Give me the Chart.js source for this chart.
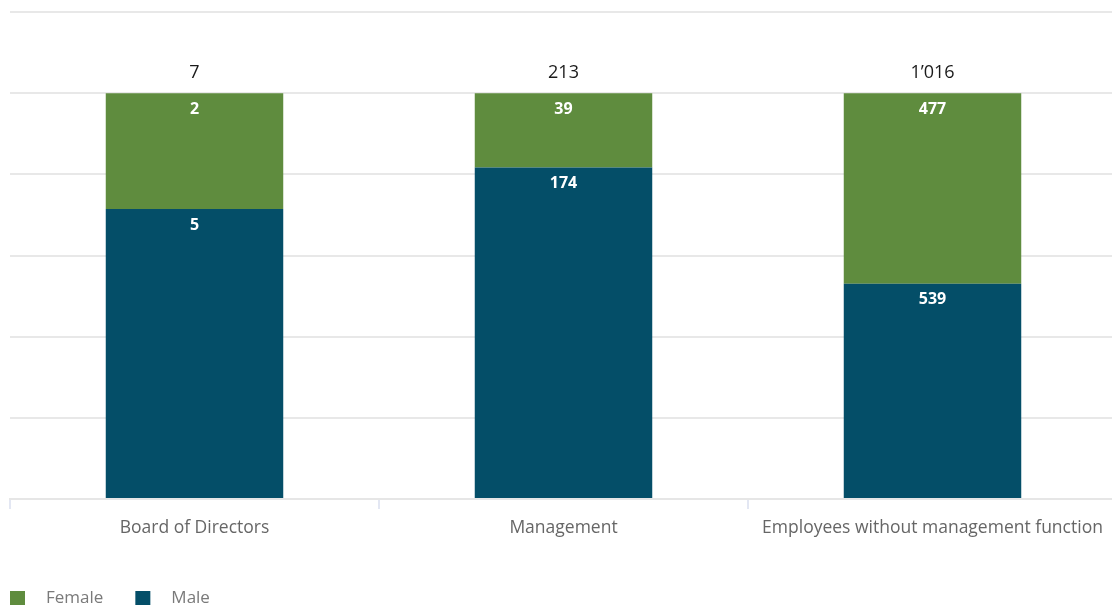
<!DOCTYPE html>
<html>
<head>
<meta charset="utf-8">
<style>
  html, body { margin: 0; padding: 0; background: #fff; overflow: hidden; }
  #wrap { position: relative; width: 1117px; height: 608px; }
</style>
</head>
<body>
<div id="wrap">
  <canvas id="genderChart"></canvas>
</div>

<script src="https://cdn.jsdelivr.net/npm/chart.js@4.4.1/dist/chart.umd.min.js"></script>
<script>
  const categories = ['Board of Directors', 'Management', 'Employees without management function'];
  const male   = [5, 174, 539];
  const female = [2, 39, 477];
  const yTicks = [0, 20, 40, 60, 80, 100, 120];

  const totals = categories.map((_, i) => male[i] + female[i]);
  const malePct   = male.map((v, i) => v / totals[i] * 100);
  const femalePct = female.map((v, i) => v / totals[i] * 100);

  const fmt = n => String(n).replace(/\B(?=(\d{3})+(?!\d))/g, '\u2019');

  const fontFamily = '"Open Sans", "Noto Sans", sans-serif';

  // counts inside the segments + totals above each column
  const valueLabels = {
    id: 'valueLabels',
    afterDatasetsDraw(chart) {
      const c = chart.ctx;
      c.save();
      c.textAlign = 'center';
      c.textBaseline = 'middle';
      chart.data.datasets.forEach((ds, di) => {
        const meta = chart.getDatasetMeta(di);
        if (meta.hidden) return;
        c.font = 'bold 16px ' + fontFamily;
        c.fillStyle = '#ffffff';
        meta.data.forEach((bar, i) => {
          c.fillText(fmt(ds.counts[i]), bar.x, bar.y + 16);
        });
      });
      const top = chart.getDatasetMeta(chart.data.datasets.length - 1);
      c.font = '18px ' + fontFamily;
      c.fillStyle = '#1a1a1a';
      top.data.forEach((bar, i) => {
        c.fillText(fmt(totals[i]), bar.x, bar.y - 20);
      });
      c.restore();
    }
  };

  // simple legend at the bottom left (Female first)
  const bottomLegend = {
    id: 'bottomLegend',
    afterDraw(chart) {
      const c = chart.ctx;
      const items = chart.data.datasets.slice().reverse();
      let x = 10;
      const y = 598;
      c.save();
      c.font = '17px ' + fontFamily;
      c.textBaseline = 'middle';
      c.textAlign = 'left';
      items.forEach(ds => {
        c.fillStyle = ds.backgroundColor;
        c.fillRect(x, y - 7, 15, 14);
        c.fillStyle = '#7a7a7a';
        c.fillText(ds.label, x + 36, y);
        x += 36 + c.measureText(ds.label).width + 32;
      });
      c.restore();
    }
  };

  new Chart(document.getElementById('genderChart'), {
    type: 'bar',
    data: {
      labels: categories,
      datasets: [
        { label: 'Male', data: malePct, counts: male, backgroundColor: '#044e68' },
        { label: 'Female', data: femalePct, counts: female, backgroundColor: '#5f8c3e' }
      ]
    },
    options: {
      responsive: true,
      maintainAspectRatio: false,
      animation: false,
      layout: { padding: { top: 12, left: 10, right: 0, bottom: 60 } },
      datasets: { bar: { categoryPercentage: 1, barPercentage: 0.481 } },
      scales: {
        x: {
          stacked: true,
          grid: { drawOnChartArea: false, color: '#e3e7f3', lineWidth: 2, tickLength: 10, offset: true },
          border: { display: true, color: '#e6e6e6', width: 2 },
          ticks: { color: '#666666', font: { family: fontFamily, size: 17.5 }, padding: 9, maxRotation: 0 }
        },
        y: {
          stacked: true,
          min: 0,
          max: yTicks[yTicks.length - 1],
          afterBuildTicks: axis => { axis.ticks = yTicks.map(v => ({ value: v })); },
          ticks: { display: false },
          grid: { color: '#e8e8e8', lineWidth: 2, drawTicks: false },
          border: { display: false }
        }
      },
      plugins: {
        legend: { display: false },
        tooltip: { enabled: false }
      }
    },
    plugins: [valueLabels, bottomLegend]
  });
</script>
</body>
</html>
